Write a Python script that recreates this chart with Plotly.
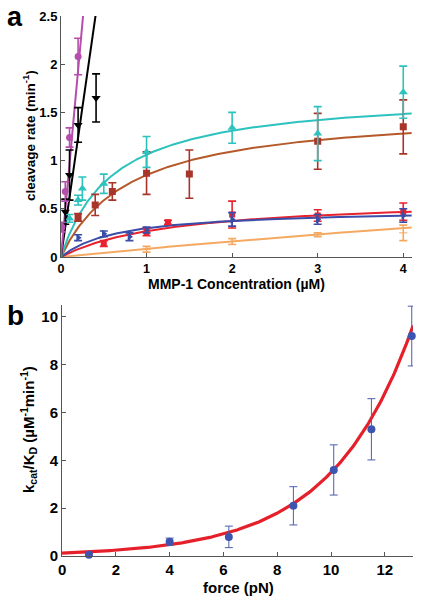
import numpy as np
import plotly.graph_objects as go

# ---------------- Panel a data (MMP-1 concentration, uM -> cleavage rate, 1/min)
mag_x = [0.01, 0.05, 0.1, 0.2]
mag_y = [0.31, 0.68, 1.24, 2.08]
mag_e = [0.05, 0.10, 0.10, 0.19]

blk_x = [0.05, 0.1, 0.2, 0.41]
blk_y = [0.47, 0.85, 1.37, 1.65]
blk_e = [0.13, 0.26, 0.18, 0.25]

cya_x = [0.1, 0.2, 0.25, 0.5, 1, 2, 3, 4]
cya_y = [0.40, 0.59, 0.71, 0.76, 1.09, 1.34, 1.28, 1.71]
cya_e = [0.04, 0.05, 0.12, 0.10, 0.16, 0.16, 0.28, 0.27]

brn_x = [0.2, 0.4, 0.6, 1, 1.5, 3, 4]
brn_y = [0.41, 0.54, 0.68, 0.87, 0.86, 1.20, 1.35]
brn_e = [0.04, 0.11, 0.09, 0.22, 0.25, 0.29, 0.28]

blu_x = [0.2, 0.5, 0.8, 1, 2, 3, 4]
blu_y = [0.20, 0.24, 0.21, 0.28, 0.39, 0.39, 0.43]
blu_e = [0.03, 0.03, 0.04, 0.03, 0.07, 0.05, 0.07]

red_x = [0.5, 1, 1.25, 2, 3, 4]
red_y = [0.14, 0.26, 0.36, 0.44, 0.43, 0.47]
red_e = [0.03, 0.04, 0.02, 0.14, 0.06, 0.09]

org_x = [1, 2, 3, 4]
org_y = [0.08, 0.16, 0.23, 0.25]
org_e = [0.03, 0.03, 0.02, 0.08]

# fitted model parameters (Michaelis-Menten: Vmax, Km; linear: slope)
mag_slope = 9.7
blk_slope = 6.2
cya_fit = (1.71, 0.61)
brn_fit = (1.54, 0.81)
blu_fit = (0.50, 0.675)
red_fit = (0.62, 1.31)
org_fit = (1.8, 20.0)

# ---------------- Panel b data (force, pN -> kcat/KD)
force = [1, 4, 6.2, 8.6, 10.1, 11.5, 13]
kcat_kd = [0.05, 0.6, 0.8, 2.1, 3.6, 5.3, 9.2]
kcat_kd_err = [0.05, 0.15, 0.45, 0.8, 1.05, 1.28, 1.25]
exp_fit = (0.125, 0.333)  # A * exp(B * force)

FONT = "Liberation Sans, Arial, sans-serif"

fig = go.Figure()

C_MAG = "#B54EAC"
C_BLK = "#000000"
C_CYA = "#2EC2BE"
C_BRN = "#B5592B"
C_BRN_M = "#A8342A"
C_BLU = "#3A4DA8"
C_RED = "#E8222E"
C_ORG = "#F5A960"

xs = np.linspace(0, 4.1, 300)


def mm(p, x):
    return p[0] * x / (p[1] + x)


def add_series(x, y, e, color, symbol, size, mcolor=None):
    fig.add_trace(go.Scatter(
        x=x, y=y, mode="markers", xaxis="x", yaxis="y",
        marker=dict(color=mcolor or color, symbol=symbol, size=size),
        error_y=dict(type="data", array=e, color=color, thickness=1.6, width=4),
        showlegend=False))


def add_fit(yv, color):
    fig.add_trace(go.Scatter(x=xs, y=yv, mode="lines", xaxis="x", yaxis="y",
                             line=dict(color=color, width=2), showlegend=False))


add_fit(org_fit[0] * xs / (org_fit[1] + xs), C_ORG)
add_fit(mm(red_fit, xs), C_RED)
add_fit(mm(blu_fit, xs), C_BLU)
add_fit(mm(brn_fit, xs), C_BRN)
add_fit(mm(cya_fit, xs), C_CYA)
xl = np.linspace(0, 2.6 / blk_slope, 50)
fig.add_trace(go.Scatter(x=xl, y=blk_slope * xl, mode="lines", xaxis="x", yaxis="y",
                         line=dict(color=C_BLK, width=2), showlegend=False))
xl = np.linspace(0, 2.6 / mag_slope, 50)
fig.add_trace(go.Scatter(x=xl, y=mag_slope * xl, mode="lines", xaxis="x", yaxis="y",
                         line=dict(color=C_MAG, width=2), showlegend=False))

add_series(org_x, org_y, org_e, C_ORG, "line-ew-open", 6)
add_series(red_x, red_y, red_e, C_RED, "square", 6)
add_series(blu_x, blu_y, blu_e, C_BLU, "triangle-right", 7)
add_series(brn_x, brn_y, brn_e, C_BRN_M, "square", 7)
add_series(cya_x, cya_y, cya_e, C_CYA, "triangle-up", 8)
add_series(blk_x, blk_y, blk_e, C_BLK, "triangle-down", 8)
add_series(mag_x, mag_y, mag_e, C_MAG, "circle", 7)

# panel b
fs = np.linspace(0, 13.05, 300)
fig.add_trace(go.Scatter(x=fs, y=exp_fit[0] * np.exp(exp_fit[1] * fs), mode="lines",
                         xaxis="x2", yaxis="y2", line=dict(color="#E5202A", width=3.2),
                         showlegend=False))
fig.add_trace(go.Scatter(x=force, y=kcat_kd, mode="markers", xaxis="x2", yaxis="y2",
                         marker=dict(color="#3D55B0", size=8),
                         error_y=dict(type="data", array=kcat_kd_err, color="#4D5DAA",
                                      thickness=1, width=4),
                         showlegend=False, cliponaxis=False))

axcommon = dict(showline=True, linecolor="#555555", linewidth=1, ticks="inside",
                ticklen=4, tickcolor="#555555", showgrid=False, zeroline=False,
                mirror=False, automargin=False)

fig.update_layout(
    template="none",
    width=425, height=600, margin=dict(l=0, r=0, t=0, b=0, autoexpand=False),
    paper_bgcolor="white", plot_bgcolor="white",
    font=dict(family=FONT, color="black"),
    xaxis=dict(domain=[0.1435, 0.969], range=[0, 4.1], anchor="y",
               tickvals=[0, 1, 2, 3, 4], ticklabelstandoff=0,
               tickfont=dict(family=FONT, size=12.5, weight="bold"), **axcommon),
    yaxis=dict(domain=[0.5717, 0.9733], range=[0, 2.5], anchor="x",
               tickvals=[0, 0.5, 1, 1.5, 2, 2.5], ticktext=["0", "0.5", "1", "1.5", "2", "2.5"],
               tickfont=dict(family=FONT, size=13, weight="bold"), **axcommon),
    xaxis2=dict(domain=[0.146, 0.972], range=[0, 13.05], anchor="y2",
                tickvals=[0, 2, 4, 6, 8, 10, 12],
                tickfont=dict(family=FONT, size=15, weight="bold"), **axcommon),
    yaxis2=dict(domain=[0.0733, 0.4917], range=[0, 10.5], anchor="x2",
                tickvals=[0, 2, 4, 6, 8, 10],
                tickfont=dict(family=FONT, size=15, weight="bold"), **axcommon),
)

ann = [
    dict(text="a", x=15 / 425, y=1 - 17 / 600, font=dict(size=27, weight="bold")),
    dict(text="b", x=15 / 425, y=1 - 316 / 600, font=dict(size=28, weight="bold")),
    dict(text="cleavage rate (min<sup>-1</sup>)", x=29 / 425, y=1 - 136 / 600,
         textangle=-90, font=dict(size=13.5, weight="bold")),
    dict(text="MMP-1 Concentration (\u00b5M)", x=236 / 425, y=1 - 284 / 600,
         font=dict(size=14, weight="bold")),
    dict(text="k<sub>cat</sub>/K<sub>D</sub> (\u00b5M<sup>-1</sup>min<sup>-1</sup>)",
         x=28 / 425, y=1 - 430 / 600, textangle=-90, font=dict(size=15, weight="bold")),
    dict(text="force (pN)", x=238 / 425, y=1 - 587 / 600,
         font=dict(size=15, weight="bold")),
]
for a in ann:
    a.update(xref="paper", yref="paper", showarrow=False, xanchor="center", yanchor="middle")
    a["font"] = dict(family=FONT, color="black", **a["font"])
fig.update_layout(annotations=ann)

fig.write_html("out.html", config={"displayModeBar": False},
               post_script="document.body.style.margin='0';document.body.style.overflow='hidden';")
